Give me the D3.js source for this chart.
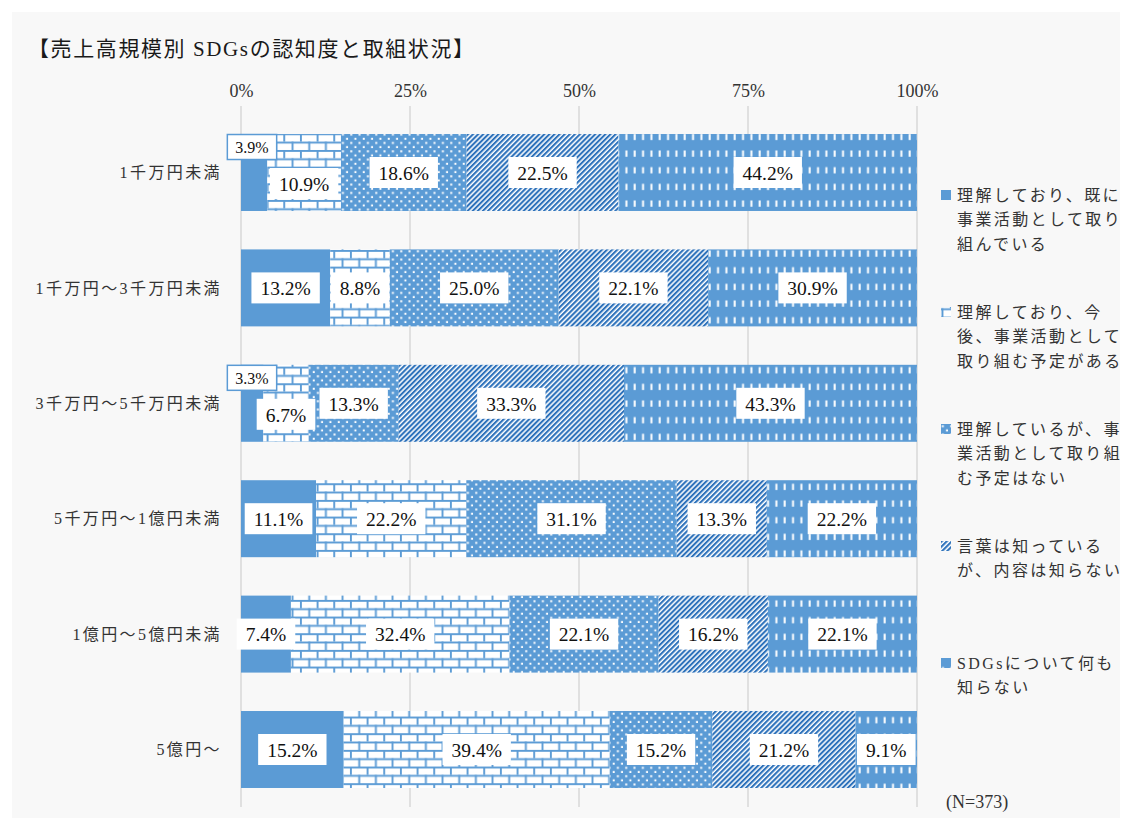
<!DOCTYPE html>
<html lang="ja">
<head>
<meta charset="utf-8">
<title>売上高規模別 SDGsの認知度と取組状況</title>
<script src="https://cdn.jsdelivr.net/npm/d3@7"></script>
<style>
  html, body { margin: 0; padding: 0; background: #ffffff; }
  svg { display: block; }
  .jp { font-family: "Liberation Serif", "Noto Sans CJK JP", serif; }
  .num { font-family: "Liberation Serif", serif; }
</style>
</head>
<body>
<svg id="chart" width="1132" height="828"></svg>
<script>
// 売上高規模（行）
const categories = [
  "1千万円未満",
  "1千万円～3千万円未満",
  "3千万円～5千万円未満",
  "5千万円～1億円未満",
  "1億円～5億円未満",
  "5億円～"
];

// 回答区分（凡例の行ごとに改行）
const seriesNames = [
  ["理解しており、既に", "事業活動として取り", "組んでいる"],
  ["理解しており、今", "後、事業活動として", "取り組む予定がある"],
  ["理解しているが、事", "業活動として取り組", "む予定はない"],
  ["言葉は知っている", "が、内容は知らない"],
  ["SDGsについて何も", "知らない"]
];

// 各区分の割合（%）
const s1Values = [3.9, 13.2, 3.3, 11.1, 7.4, 15.2];
const s2Values = [10.9, 8.8, 6.7, 22.2, 32.4, 39.4];
const s3Values = [18.6, 25.0, 13.3, 31.1, 22.1, 15.2];
const s4Values = [22.5, 22.1, 33.3, 13.3, 16.2, 21.2];
const s5Values = [44.2, 30.9, 43.3, 22.2, 22.1, 9.1];

const tickValues = [0, 25, 50, 75, 100];
const tickLabels = ["0%", "25%", "50%", "75%", "100%"];
const titleText = "【売上高規模別 SDGsの認知度と取組状況】";
const noteText = "(N=373)";

const seriesValues = [s1Values, s2Values, s3Values, s4Values, s5Values];

const svg = d3.select("#chart");
const blue = "#5b9bd5";
const stripeBlue = "#2e72bb";

// 背景パネル
svg.append("rect")
  .attr("x", 12).attr("y", 12)
  .attr("width", 1108).attr("height", 806)
  .attr("fill", "#f8f8f8");

// 塗りパターン
const u = 2.083;
const defs = svg.append("defs");

function brick(id) {
  const p = defs.append("pattern").attr("id", id)
    .attr("patternUnits", "userSpaceOnUse")
    .attr("width", 8 * u).attr("height", 8 * u);
  const m = 1.9;
  p.append("rect").attr("width", 8 * u).attr("height", 8 * u).attr("fill", "#ffffff");
  p.append("rect").attr("x", 0).attr("y", 0).attr("width", 8 * u).attr("height", m).attr("fill", blue);
  p.append("rect").attr("x", 0).attr("y", 4 * u).attr("width", 8 * u).attr("height", m).attr("fill", blue);
  p.append("rect").attr("x", 0).attr("y", 0).attr("width", m).attr("height", 4 * u).attr("fill", blue);
  p.append("rect").attr("x", 4 * u).attr("y", 4 * u).attr("width", m).attr("height", 4 * u).attr("fill", blue);
}
function dots(id) {
  const p = defs.append("pattern").attr("id", id)
    .attr("patternUnits", "userSpaceOnUse")
    .attr("width", 4 * u).attr("height", 4 * u);
  p.append("rect").attr("width", 4 * u).attr("height", 4 * u).attr("fill", blue);
  p.append("rect").attr("x", 0.3).attr("y", 0.3).attr("width", 2).attr("height", 2).attr("fill", "#ffffff");
  p.append("rect").attr("x", 2 * u + 0.3).attr("y", 2 * u + 0.3).attr("width", 2).attr("height", 2).attr("fill", "#ffffff");
}
function diagonal(id) {
  const w = 3.6;
  const p = defs.append("pattern").attr("id", id)
    .attr("patternUnits", "userSpaceOnUse")
    .attr("width", w).attr("height", w)
    .attr("patternTransform", "rotate(45)");
  p.append("rect").attr("width", w).attr("height", w).attr("fill", "#ffffff");
  p.append("rect").attr("width", 2.1).attr("height", w).attr("fill", stripeBlue);
}
function dashes(id) {
  const p = defs.append("pattern").attr("id", id)
    .attr("patternUnits", "userSpaceOnUse")
    .attr("width", 4 * u).attr("height", 8 * u);
  p.append("rect").attr("width", 4 * u).attr("height", 8 * u).attr("fill", blue);
  p.append("rect").attr("x", 0.5).attr("y", 0.5).attr("width", 2).attr("height", 3 * u).attr("fill", "#ffffff");
}
brick("pBrick");
dots("pDots");
diagonal("pDiag");
dashes("pDash");
const fills = [blue, "url(#pBrick)", "url(#pDots)", "url(#pDiag)", "url(#pDash)"];

// スケール
const x = d3.scaleLinear().domain([0, 100]).range([241, 917]);
const y = d3.scaleBand().domain(categories)
  .range([114.8, 807.2]).paddingInner(0.333).paddingOuter(0.1665);

// タイトル
svg.append("text").attr("class", "jp")
  .attr("x", 28).attr("y", 56)
  .attr("font-size", 21).attr("letter-spacing", 1.6)
  .attr("fill", "#1a1a1a")
  .text(titleText);

// 目盛線
svg.append("g").selectAll("line").data(tickValues).join("line")
  .attr("x1", d => x(d)).attr("x2", d => x(d))
  .attr("y1", 106).attr("y2", 807)
  .attr("stroke", "#d9d9d9").attr("stroke-width", 1.5);

// 上側の軸ラベル
const axis = d3.axisTop(x).tickValues(tickValues)
  .tickFormat((d, i) => tickLabels[i]).tickSize(0).tickPadding(0);
const gAxis = svg.append("g").attr("transform", "translate(0,97)").call(axis);
gAxis.select(".domain").remove();
gAxis.selectAll("text")
  .attr("class", "num")
  .attr("font-size", 18).attr("fill", "#333").attr("dy", 0);

// 積み上げ（100%基準）
const rows = categories.map((c, i) => {
  const vals = seriesValues.map(s => s[i]);
  const total = d3.sum(vals);
  let acc = 0;
  return vals.map((v, k) => {
    const x0 = acc / total * 100;
    acc += v;
    return { cat: c, k, v, x0, x1: acc / total * 100 };
  });
});
const segs = rows.flat();

svg.append("g").selectAll("rect").data(segs).join("rect")
  .attr("x", d => x(d.x0))
  .attr("y", d => y(d.cat))
  .attr("width", d => x(d.x1) - x(d.x0))
  .attr("height", y.bandwidth())
  .attr("fill", d => fills[d.k]);

// カテゴリラベル
svg.append("g").selectAll("text").data(categories).join("text")
  .attr("class", "jp")
  .attr("x", 222)
  .attr("y", d => y(d) + y.bandwidth() / 2)
  .attr("dy", "0.35em")
  .attr("text-anchor", "end")
  .attr("font-size", 16).attr("letter-spacing", 2.4)
  .attr("fill", "#333")
  .text(d => d);

// データラベル
const gLab = svg.append("g");
rows.forEach(row => {
  let calloutRight = null;
  row.forEach(d => {
    const label = d.v.toFixed(1) + "%";
    const segW = x(d.x1) - x(d.x0);
    const top = y(d.cat);
    const cy = top + y.bandwidth() / 2;
    const g = gLab.append("g");
    if (segW < 30) {
      // 幅の狭い区分は吹き出し
      const t = g.append("text").attr("class", "num")
        .attr("font-size", 16).attr("fill", "#111")
        .attr("text-anchor", "middle").attr("dy", "0.35em")
        .text(label);
      const tw = t.node().getComputedTextLength();
      const bw = tw + 16, bh = 25;
      const bx = x(d.x0) + 11;
      const by = top + 13;
      g.insert("rect", "text")
        .attr("x", bx - bw / 2).attr("y", by - bh / 2)
        .attr("width", bw).attr("height", bh)
        .attr("fill", "#ffffff").attr("stroke", blue).attr("stroke-width", 1.5);
      t.attr("x", bx).attr("y", by + 0.5);
      calloutRight = bx + bw / 2;
      return;
    }
    const t = g.append("text").attr("class", "num")
      .attr("font-size", 19.5).attr("fill", "#111")
      .attr("text-anchor", "middle").attr("dy", "0.35em")
      .text(label);
    const tw = t.node().getComputedTextLength();
    const bw = tw + 18, bh = 31;
    const cx = (x(d.x0) + x(d.x1)) / 2;
    let ly = cy;
    if (calloutRight !== null && cx - bw / 2 < calloutRight) ly = cy + 11;
    calloutRight = null;
    g.insert("rect", "text")
      .attr("x", cx - bw / 2).attr("y", ly - bh / 2)
      .attr("width", bw).attr("height", bh)
      .attr("fill", "#ffffff");
    t.attr("x", cx).attr("y", ly + 0.5);
  });
});

// 凡例
const legend = svg.append("g");
seriesNames.forEach((lines, k) => {
  const ly = 195 + k * 117;
  legend.append("rect")
    .attr("x", 941).attr("y", ly - 5)
    .attr("width", 10).attr("height", 10)
    .attr("fill", fills[k]);
  const t = legend.append("text").attr("class", "jp")
    .attr("font-size", 16).attr("letter-spacing", 2.4)
    .attr("fill", "#333");
  lines.forEach((ln, j) => {
    t.append("tspan").attr("x", 957).attr("y", ly + j * 24.5)
      .attr("dy", "0.35em").text(ln);
  });
});

// 回答数
svg.append("text").attr("class", "num")
  .attr("x", 946).attr("y", 802).attr("dy", "0.35em")
  .attr("font-size", 18).attr("fill", "#333")
  .text(noteText);
</script>
</body>
</html>
